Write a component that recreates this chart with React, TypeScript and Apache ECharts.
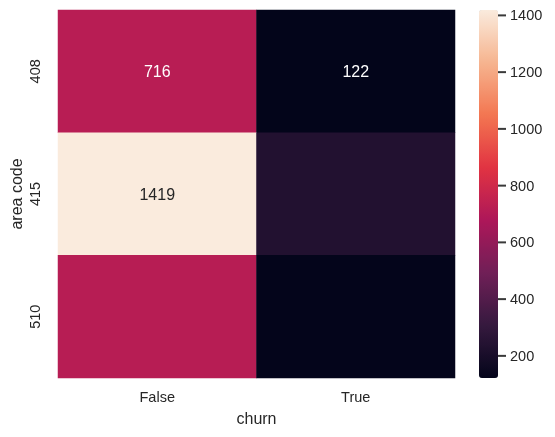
import React, { useEffect, useRef } from "react";
import * as echarts from "echarts";

const areaCodes = ["408", "415", "510"];
const churnCats = ["False", "True"];
const falseCounts = [716, 1419, 715];
const trueCounts = [122, 236, 125];
// seaborn only annotated these cells in the reference
const falseAnnot = [true, true, false];
const trueAnnot = [true, false, false];
const colorbarTicks = [200, 400, 600, 800, 1000, 1200, 1400];
const rocket = ["#03051a", "#35193e", "#701f57", "#ad1759", "#e13342", "#f37651", "#f6b48f", "#faebdd"];

const FONT = "'Liberation Sans', Arial, sans-serif";
const TXT = "#262626";

export default function App() {
  const ref = useRef<HTMLDivElement>(null);
  useEffect(() => {
    if (!ref.current) return;
    const chart = echarts.init(ref.current, null, { renderer: "svg" });
    const all = [...falseCounts, ...trueCounts];
    const vmin = Math.min(...all);
    const vmax = Math.max(...all);
    const dark = (v: number) => (v - vmin) / (vmax - vmin) < 0.8;
    const data: any[] = [];
    areaCodes.forEach((_, i) => {
      data.push({
        value: [0, i, falseCounts[i]],
        label: { show: falseAnnot[i], color: dark(falseCounts[i]) ? "#ffffff" : TXT },
      });
      data.push({
        value: [1, i, trueCounts[i]],
        label: { show: trueAnnot[i], color: dark(trueCounts[i]) ? "#ffffff" : TXT },
      });
    });
    chart.setOption({
      animation: false,
      textStyle: { fontFamily: FONT },
      grid: [
        { left: 58, top: 10, width: 397, height: 368, outerBoundsMode: "none", containLabel: false },
        { left: 479, top: 10, width: 19, height: 368, outerBoundsMode: "none", containLabel: false },
      ],
      xAxis: [
        {
          type: "category",
          gridIndex: 0,
          data: churnCats,
          name: "churn",
          nameLocation: "middle",
          nameGap: 32,
          nameMoveOverlap: false,
          nameTextStyle: { fontSize: 16, color: TXT, fontFamily: FONT },
          axisLine: { show: false },
          axisTick: { show: false },
          axisLabel: { fontSize: 14.5, color: TXT, margin: 11, fontFamily: FONT },
          splitLine: { show: false },
        },
        { type: "value", gridIndex: 1, show: false, min: 0, max: 1 },
      ],
      yAxis: [
        {
          type: "category",
          gridIndex: 0,
          data: areaCodes,
          inverse: true,
          name: "area code",
          nameLocation: "middle",
          nameGap: 34,
          nameMoveOverlap: false,
          nameTextStyle: { fontSize: 16, color: TXT, fontFamily: FONT },
          axisLine: { show: false },
          axisTick: { show: false },
          axisLabel: { fontSize: 14.5, color: TXT, rotate: 90, margin: 16, fontFamily: FONT },
          splitLine: { show: false },
        },
        {
          type: "value",
          gridIndex: 1,
          position: "right",
          min: vmin,
          max: vmax,
          axisLine: { show: false },
          splitLine: { show: false },
          axisTick: { show: false },
          axisLabel: {
            margin: 12,
            fontSize: 14.5,
            color: TXT,
            fontFamily: FONT,
            customValues: colorbarTicks,
            formatter: (v: number) => String(v),
          },
        },
      ],
      visualMap: {
        type: "continuous",
        min: vmin,
        max: vmax,
        seriesIndex: [0],
        calculable: false,
        left: 479,
        top: 10,
        padding: 0,
        itemWidth: 19,
        itemHeight: 368,
        showLabel: false,
        hoverLink: false,
        inRange: { color: rocket },
      },
      series: [
        {
          type: "heatmap",
          xAxisIndex: 0,
          yAxisIndex: 0,
          data,
          label: {
            show: true,
            fontSize: 16,
            fontFamily: FONT,
            formatter: (p: any) => String(p.value[2]),
          },
          itemStyle: { borderWidth: 0 },
          emphasis: { disabled: true },
        },
        {
          type: "scatter",
          xAxisIndex: 1,
          yAxisIndex: 1,
          data: colorbarTicks.map((v) => [1, v]),
          symbol: "rect",
          symbolSize: [8, 2],
          symbolOffset: [4, 0],
          clip: false,
          silent: true,
          itemStyle: { color: "#3a3a3a", opacity: 1 },
          emphasis: { disabled: true },
          z: 10,
        },
      ],
    });
    return () => chart.dispose();
  }, []);
  return <div ref={ref} style={{ position: "fixed", left: 0, top: 0, width: 555, height: 437 }} />;
}
